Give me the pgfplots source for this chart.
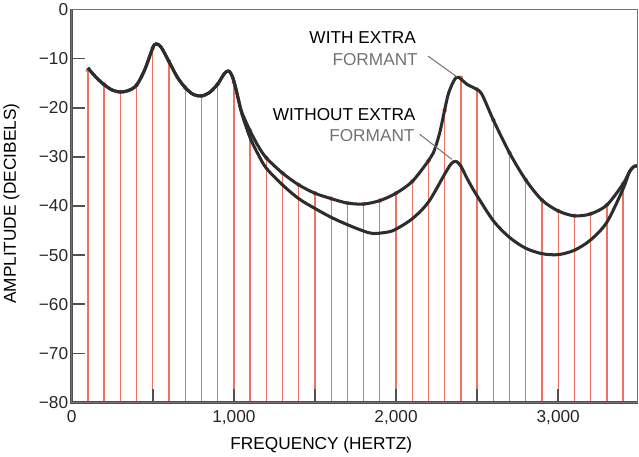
\documentclass[border=0pt]{standalone}
\usepackage{fontspec}
\setmainfont{Liberation Sans}
\usepackage{pgfplots}
\pgfplotsset{compat=1.18}
\usepackage{pgfplotstable}
\definecolor{curve}{RGB}{45,45,45}
\definecolor{harm}{RGB}{236,116,95}
\definecolor{framec}{RGB}{80,80,80}
\definecolor{labgray}{RGB}{115,115,115}

% envelope with the extra formant (upper curve)
\pgfplotstableread{
f a
100 -11.9
150 -13.8
200 -15.3
250 -16.4
300 -16.8
350 -16.5
400 -15.4
450 -12.3
500 -7.8
520 -7.0
550 -7.6
600 -10.6
650 -13.7
700 -15.9
750 -17.3
800 -17.6
850 -16.9
900 -15.2
940 -13.1
968 -12.5
990 -13.6
1010 -15.8
1030 -18.6
1050 -21.0
1100 -24.7
1150 -27.8
1200 -30.2
1300 -33.3
1400 -35.7
1500 -37.4
1600 -38.5
1700 -39.4
1800 -39.6
1900 -38.9
2000 -37.4
2100 -35.0
2200 -30.8
2230 -29.2
2270 -25.0
2320 -17.5
2360 -14.3
2385 -13.8
2440 -15.3
2490 -16.1
2530 -17.3
2600 -22.5
2700 -29.2
2800 -34.7
2900 -38.8
3000 -41.0
3100 -42.0
3200 -41.6
3300 -39.8
3400 -35.5
3440 -33.0
3470 -31.9
3490 -31.9
}\withtab

% envelope without the extra formant (lower curve)
\pgfplotstableread{
f a
100 -11.9
150 -13.8
200 -15.3
250 -16.4
300 -16.8
350 -16.5
400 -15.4
450 -12.3
500 -7.8
520 -7.0
550 -7.6
600 -10.6
650 -13.7
700 -15.9
750 -17.3
800 -17.6
850 -16.9
900 -15.2
940 -13.1
968 -12.5
990 -13.6
1010 -15.8
1030 -18.6
1050 -21.3
1100 -26.1
1150 -29.5
1200 -32.3
1300 -35.7
1400 -38.5
1500 -40.5
1600 -42.3
1700 -43.8
1800 -45.1
1860 -45.6
1950 -45.3
2000 -44.7
2100 -42.6
2200 -39.2
2300 -33.5
2340 -31.4
2370 -30.9
2400 -31.9
2440 -34.5
2490 -37.4
2600 -43.0
2700 -46.4
2800 -48.6
2900 -49.7
3000 -49.9
3100 -49.0
3200 -46.9
3300 -43.3
3400 -36.5
3440 -33.0
3470 -31.9
3490 -31.9
}\withouttab

% harmonics every 100 Hz
\pgfplotstableread{
f a
100 -12.4
200 -15.3
300 -16.8
400 -15.4
500 -7.8
600 -10.6
700 -15.9
800 -17.6
900 -15.2
1000 -14.8
1100 -24.7
1200 -30.2
1300 -33.3
1400 -35.7
1500 -37.4
1600 -38.5
1700 -39.4
1800 -39.6
1900 -38.9
2000 -37.4
2100 -35.0
2200 -30.8
2300 -20.5
2400 -13.9
2500 -16.3
2600 -22.5
2700 -29.2
2800 -34.7
2900 -38.8
3000 -41.0
3100 -42.0
3200 -41.6
3300 -39.8
3400 -35.5
}\harmtab

\begin{document}
\begin{tikzpicture}
\begin{axis}[
  name=ax,
  scale only axis,
  width=558pt, height=387.5pt,
  xmin=0, xmax=3490, ymin=-80, ymax=0,
  clip mode=individual,
  axis on top,
  axis line style={draw=framec!80, line width=1.4pt},
  xtick={0,500,...,3000},
  xticklabels={0,,1{,}000,,2{,}000,,3{,}000},
  ytick={-80,-70,...,0},
  yticklabels={−80,−70,−60,−50,−40,−30,−20,−10,0},
  xtick pos=bottom, ytick pos=left,
  tick align=inside,
  major tick length=13pt,
  tick style={framec, line width=1.6pt},
  tick label style={font=\fontsize{17}{20}\selectfont, text=black!85},
  xticklabel style={yshift=-4pt},
  xlabel={FREQUENCY (HERTZ)},
  ylabel={AMPLITUDE (DECIBELS)},
  label style={font=\fontsize{17}{20}\selectfont},
  xlabel style={at={(axis description cs:0.441,-0.1187)}, anchor=base},
  ylabel style={at={(axis description cs:-0.0986,0.506)}, anchor=base, rotate=0},
]
\addplot[harm, only marks, mark=none, forget plot,
  error bars/.cd, y dir=minus, y explicit, error mark=none,
  error bar style={color=harm, line width=1.3pt}]
  table[x=f, y=a, y error expr=\thisrow{a}+80] {\harmtab};

\addplot[curve, line width=3pt, smooth, line join=round] table[x=f, y=a] {\withouttab};
\addplot[curve, line width=3pt, smooth, line join=round] table[x=f, y=a] {\withtab};

\draw[framec, line width=2.6pt] (rel axis cs:0,1) -- (rel axis cs:0,0) -- (rel axis cs:1,0);

\node[anchor=east, font=\fontsize{17}{20}\selectfont, text=black] at (axis cs:2144,-5.8) {WITH EXTRA};
\node[anchor=east, font=\fontsize{17}{20}\selectfont, text=labgray] at (axis cs:2156,-10.1) {FORMANT};
\draw[labgray, line width=1pt] (axis cs:2198,-9.5) -- (axis cs:2375,-13.7);
\node[anchor=east, font=\fontsize{17}{20}\selectfont, text=black] at (axis cs:2142,-21.4) {WITHOUT EXTRA};
\node[anchor=east, font=\fontsize{17}{20}\selectfont, text=labgray] at (axis cs:2136,-25.6) {FORMANT};
\draw[labgray, line width=1pt] (axis cs:2146,-25.4) -- (axis cs:2344,-30.5);
\end{axis}
\end{tikzpicture}
\end{document}
